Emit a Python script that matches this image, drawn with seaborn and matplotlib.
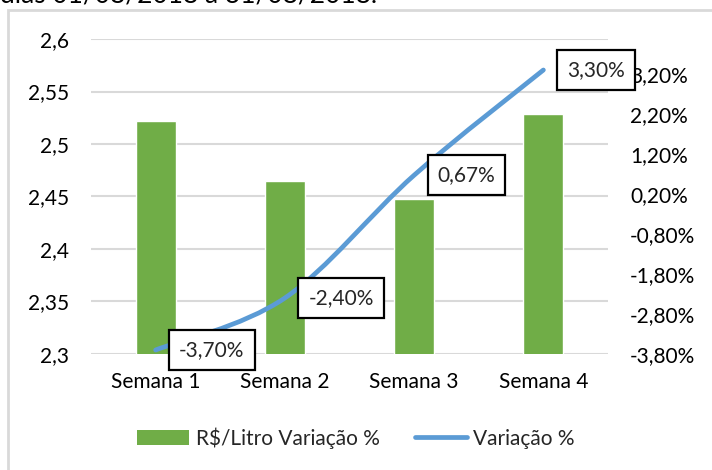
import matplotlib
matplotlib.use("Agg")
import matplotlib.pyplot as plt
import seaborn as sns
import pandas as pd
from matplotlib.path import Path
from matplotlib.patches import PathPatch, Rectangle, Patch
from matplotlib.lines import Line2D

# ---- data ----
semanas = ["Semana 1", "Semana 2", "Semana 3", "Semana 4"]
preco_litro = [2.522, 2.465, 2.448, 2.529]
variacao_pct = [-3.70, -2.40, 0.67, 3.30]
rotulos_var = ["-3,70%", "-2,40%", "0,67%", "3,30%"]
ticks_esq = [2.3, 2.35, 2.4, 2.45, 2.5, 2.55, 2.6]
ticks_dir = [-3.8, -2.8, -1.8, -0.8, 0.2, 1.2, 2.2, 3.2]

VERDE = "#70AD47"
AZUL = "#5B9BD5"
GRADE = "#D9D9D9"
FS = 15

sns.set_theme(style="white")
plt.rcParams["font.family"] = ["Lato", "DejaVu Sans"]

fig = plt.figure(figsize=(7.12, 4.70), dpi=100)
ax = fig.add_axes([91 / 712, 1 - 354 / 470, 517 / 712, 315 / 470])

df = pd.DataFrame({"semana": semanas, "preco": preco_litro})
sns.barplot(data=df, x="semana", y="preco", color=VERDE, saturation=1,
            width=0.31, ax=ax, zorder=2)

ax.set_ylim(2.3, 2.6)
ax.set_xlim(-0.5, 3.5)
ax.set_yticks(ticks_esq)
ax.set_yticklabels([f"{t:g}".replace(".", ",") for t in ticks_esq])
ax.yaxis.grid(True, color=GRADE, lw=1.5, zorder=0)
ax.set_axisbelow(True)
ax.set_xlabel("")
ax.set_ylabel("")
for s in ax.spines.values():
    s.set_visible(False)
ax.tick_params(axis="y", length=0, pad=16, labelsize=FS, colors="black")
ax.tick_params(axis="x", length=0, pad=13, labelsize=FS, colors="black")

# ---- right axis: smoothed line (Excel style bezier) ----
ax2 = ax.twinx()
ax2.set_ylim(-3.8, -3.8 + 315 / 40)
ax2.set_yticks(ticks_dir)
ax2.set_yticklabels([f"{t:.2f}%".replace(".", ",") for t in ticks_dir])
for s in ax2.spines.values():
    s.set_visible(False)
ax2.tick_params(axis="y", length=0, pad=16, labelsize=FS, colors="black")
ax2.grid(False)

xs = list(range(len(semanas)))
pts = list(zip(xs, variacao_pct))
verts = [pts[0]]
codes = [Path.MOVETO]
for i in range(len(pts) - 1):
    p0 = pts[max(i - 1, 0)]
    p1 = pts[i]
    p2 = pts[i + 1]
    p3 = pts[min(i + 2, len(pts) - 1)]
    c1 = (p1[0] + (p2[0] - p0[0]) / 6, p1[1] + (p2[1] - p0[1]) / 6)
    c2 = (p2[0] - (p3[0] - p1[0]) / 6, p2[1] - (p3[1] - p1[1]) / 6)
    verts += [c1, c2, p2]
    codes += [Path.CURVE4] * 3
ax2.add_patch(PathPatch(Path(verts, codes), facecolor="none", edgecolor=AZUL,
                        lw=3.4, capstyle="round", zorder=3))

for x, v, lab in zip(xs, variacao_pct, rotulos_var):
    ax2.annotate(lab, (x, v), xytext=(17, 0), textcoords="offset points",
                 ha="left", va="center", fontsize=FS, zorder=5,
                 bbox=dict(boxstyle="square,pad=0.48", fc="white", ec="black", lw=1.6))

# ---- legend ----
handles = [Patch(facecolor=VERDE, edgecolor="none"),
           Line2D([0], [0], color=AZUL, lw=3.4, solid_capstyle="round")]
fig.legend(handles, ["R\\$/Litro Variação %", "Variação %"], loc="center",
           bbox_to_anchor=(0.5, 1 - 438 / 470), ncol=2, frameon=False,
           fontsize=FS, handlelength=2.5, handleheight=0.8,
           handletextpad=0.3, columnspacing=1.7)

# ---- outer chart border and title (cut off at the top, as in the source) ----
fig.patches.append(Rectangle((8 / 712, -0.2), 1.5, 1.2 - 10 / 470,
                             transform=fig.transFigure, fill=False,
                             ec=GRADE, lw=2, figure=fig))
fig.text(0.0, 1.0 + 5 / 470, "dias 01/08/2018 a 31/08/2018.", ha="left",
         va="center", fontsize=19, color="black")

fig.savefig("out.png", dpi=100)
